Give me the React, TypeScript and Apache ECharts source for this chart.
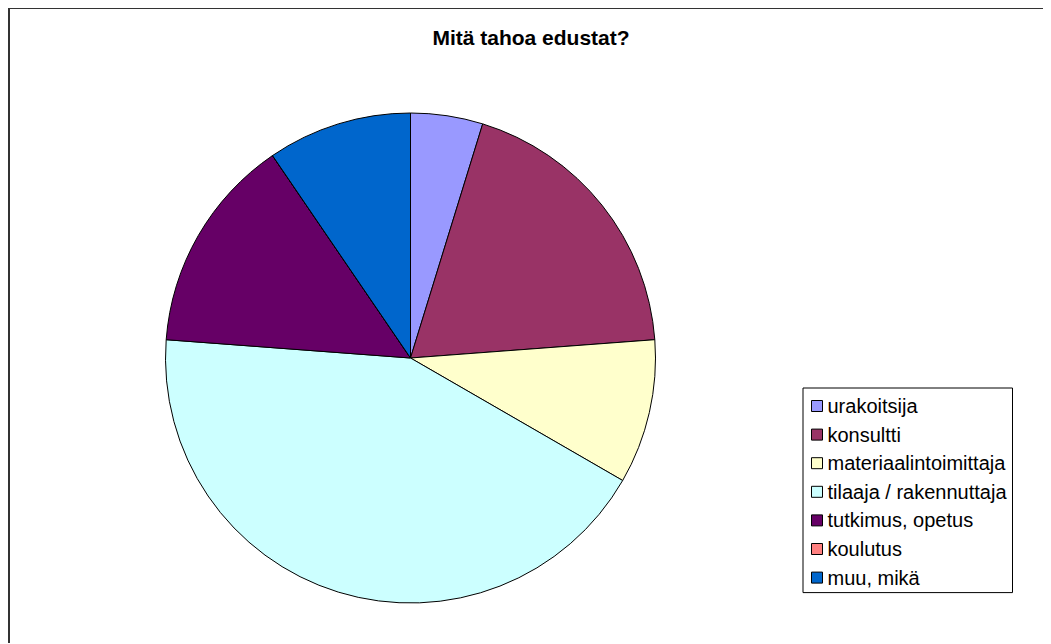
import React, { useEffect, useRef } from "react";
import * as echarts from "echarts";

const categories = [
  "urakoitsija",
  "konsultti",
  "materiaalintoimittaja",
  "tilaaja / rakennuttaja",
  "tutkimus, opetus",
  "koulutus",
  "muu, mikä",
];
const values = [1, 4, 2, 9, 3, 0, 2];
const colors = ["#9999FF", "#993366", "#FFFFCC", "#CCFFFF", "#660066", "#FF8080", "#0066CC"];
const title = "Mitä tahoa edustat?";

export default function App() {
  const ref = useRef<HTMLDivElement>(null);
  useEffect(() => {
    if (!ref.current) return;
    const chart = echarts.init(ref.current, undefined, { renderer: "svg" });
    chart.setOption({
      animation: false,
      backgroundColor: "#ffffff",
      title: {
        text: title,
        left: 521,
        top: 18,
        textAlign: "center",
        padding: 0,
        textStyle: {
          fontFamily: "Liberation Sans, Arial, sans-serif",
          fontSize: 21,
          fontWeight: "bold",
          color: "#000",
        },
      },
      legend: {
        orient: "vertical",
        left: 793,
        top: 379,
        data: categories,
        icon: "rect",
        itemWidth: 11,
        itemHeight: 11,
        itemGap: 8.6,
        padding: [8, 6, 5, 8],
        borderColor: "#000",
        borderWidth: 1,
        backgroundColor: "#fff",
        selectedMode: false,
        itemStyle: { borderColor: "#000", borderWidth: 1 },
        textStyle: {
          fontFamily: "Liberation Sans, Arial, sans-serif",
          fontSize: 20,
          lineHeight: 20,
          color: "#000",
        },
      },
      series: [
        {
          type: "pie",
          center: [400.5, 349],
          radius: [0, 245],
          startAngle: 90,
          clockwise: true,
          avoidLabelOverlap: false,
          label: { show: false },
          labelLine: { show: false },
          emphasis: { disabled: true },
          silent: true,
          itemStyle: { borderColor: "#000", borderWidth: 1 },
          data: categories.map((name, i) => ({
            name,
            value: values[i],
            itemStyle: { color: colors[i] },
          })),
        },
      ],
    });
    return () => chart.dispose();
  }, []);
  return (
    <div
      style={{
        width: 1043,
        height: 636,
        borderTop: "2px solid #333",
        borderLeft: "2px solid #333",
        boxSizing: "border-box",
        marginTop: -1,
      }}
    >
      <div ref={ref} style={{ width: 1041, height: 635 }} />
    </div>
  );
}
